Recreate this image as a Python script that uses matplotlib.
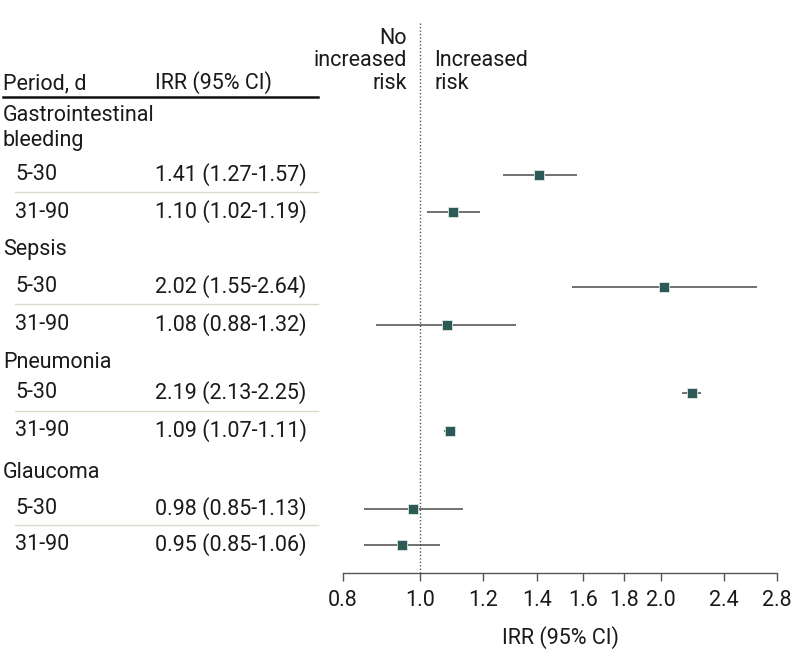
import matplotlib
matplotlib.use("Agg")
import matplotlib.pyplot as plt
import matplotlib.transforms as mtransforms
from matplotlib.lines import Line2D
from matplotlib.ticker import FixedLocator, NullLocator, FixedFormatter

plt.rcParams['font.family'] = ['Roboto', 'DejaVu Sans']

# ---------------- data ----------------
outcomes = ["Gastrointestinal\nbleeding", "Sepsis", "Pneumonia", "Glaucoma"]
periods = ["5-30", "31-90"]
irr = [1.41, 1.10, 2.02, 1.08, 2.19, 1.09, 0.98, 0.95]
ci_low = [1.27, 1.02, 1.55, 0.88, 2.13, 1.07, 0.85, 0.85]
ci_high = [1.57, 1.19, 2.64, 1.32, 2.25, 1.11, 1.13, 1.06]
tick_values = [0.8, 1.0, 1.2, 1.4, 1.6, 1.8, 2.0, 2.4, 2.8]
tick_labels = ["0.8", "1.0", "1.2", "1.4", "1.6", "1.8", "2.0", "2.4", "2.8"]

# ---------------- layout (pixel rows) ----------------
W, H = 801, 653
header_base = 89
outcome_y = [128, 250, 362, 473]
row_y = [175, 212, 287, 325, 393, 431, 509, 545]
sep_y = [192, 304, 411, 525]

fig = plt.figure(figsize=(W / 100, H / 100), dpi=100)
ax_left, ax_right, ax_bottom, ax_top = 342.7, 777.3, 573, 22
ax = fig.add_axes([ax_left / W, (H - ax_bottom) / H,
                   (ax_right - ax_left) / W, (ax_bottom - ax_top) / H])
ax.set_xscale("log")
ax.set_xlim(0.8, 2.8)
ax.set_ylim(ax_bottom, ax_top)

text_col = "#1a1a1a"
mark_col = "#2b5a57"
line_col = "#4a4a4a"

# reference line
ax.axvline(1.0, ymin=0, ymax=1, color="#555555", lw=1, ls=(0, (1, 1.5)), zorder=1)

# CIs and points
for y, m, lo, hi in zip(row_y, irr, ci_low, ci_high):
    ax.plot([lo, hi], [y, y], color=line_col, lw=1.1, zorder=2, solid_capstyle="butt")
    ax.plot([m], [y], marker="s", ms=7.5, color=mark_col, mec="#dfe8e6", mew=0.6, zorder=3)

# axes styling
for s in ["top", "right", "left"]:
    ax.spines[s].set_visible(False)
ax.spines["bottom"].set_color("#555555")
ax.spines["bottom"].set_linewidth(1)
ax.xaxis.set_major_locator(FixedLocator(tick_values))
ax.xaxis.set_major_formatter(FixedFormatter(tick_labels))
ax.xaxis.set_minor_locator(NullLocator())
ax.tick_params(axis="x", length=6, width=1, color="#555555", labelsize=15.5,
               labelcolor=text_col, pad=6)
ax.set_yticks([])
ax.set_xlabel("IRR (95% CI)", fontsize=15.5, color=text_col, labelpad=11)

tr = mtransforms.blended_transform_factory(fig.transFigure, ax.transData)
fs = 15.5

# header risk labels
ax.text(407 / W, header_base, "No\nincreased\nrisk", transform=tr,
        ha="right", va="baseline", fontsize=fs, color=text_col, linespacing=1.1)
ax.text(434 / W, header_base, "Increased\nrisk", transform=tr,
        ha="left", va="baseline", fontsize=fs, color=text_col, linespacing=1.1)

# table
ax.text(3 / W, header_base, "Period, d", transform=tr, ha="left", va="baseline", fontsize=fs, color=text_col)
ax.text(155 / W, header_base, "IRR (95% CI)", transform=tr, ha="left", va="baseline", fontsize=fs, color=text_col)
fig.add_artist(Line2D([3 / W, 318 / W], [97, 97], transform=tr, color="#111111", lw=1.8))

for i, name in enumerate(outcomes):
    ax.text(3 / W, outcome_y[i], name, transform=tr, ha="left", va="center", fontsize=fs,
            color=text_col, linespacing=1.2)
    for j, p in enumerate(periods):
        k = 2 * i + j
        ax.text(15 / W, row_y[k], p, transform=tr, ha="left", va="center", fontsize=fs, color=text_col)
        ax.text(155 / W, row_y[k], f"{irr[k]:.2f} ({ci_low[k]:.2f}-{ci_high[k]:.2f})",
                transform=tr, ha="left", va="center", fontsize=fs, color=text_col)
    fig.add_artist(Line2D([15 / W, 318 / W], [sep_y[i], sep_y[i]], transform=tr,
                          color="#d9d9cc", lw=1))

fig.savefig("out.png", dpi=100)
